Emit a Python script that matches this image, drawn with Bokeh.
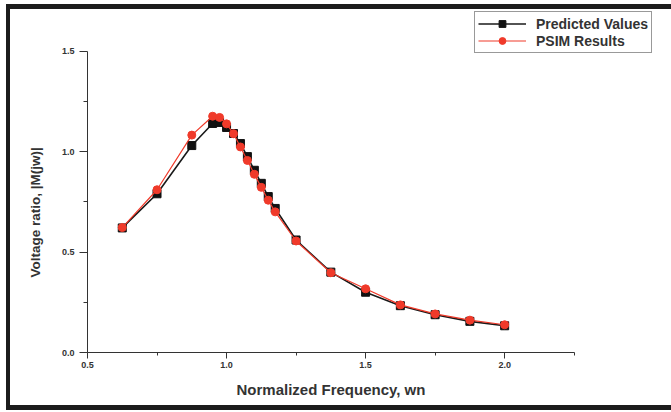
from bokeh.plotting import figure
from bokeh.models import (Range1d, Legend, LegendItem, ColumnDataSource,
                          FixedTicker, NumeralTickFormatter, Title)
from bokeh.embed import file_html
from bokeh.resources import INLINE

# Normalized frequency values
freq = [0.625, 0.75, 0.875, 0.95, 0.975, 1.0, 1.025, 1.05, 1.075, 1.1, 1.125,
        1.15, 1.175, 1.25, 1.375, 1.5, 1.625, 1.75, 1.875, 2.0]
# Predicted values (black squares)
predicted = [0.62, 0.79, 1.03, 1.14, 1.145, 1.12, 1.09, 1.04, 0.975, 0.907, 0.842,
             0.776, 0.717, 0.56, 0.40, 0.30, 0.233, 0.188, 0.155, 0.133]
# PSIM results (red circles)
psim = [0.622, 0.81, 1.082, 1.176, 1.17, 1.138, 1.089, 1.023, 0.956, 0.887, 0.822,
        0.758, 0.70, 0.555, 0.397, 0.317, 0.237, 0.192, 0.161, 0.138]

x_ticks = [0.5, 1.0, 1.5, 2.0]
x_minor = [0.75, 1.25, 1.75, 2.25]
y_ticks = [0.0, 0.5, 1.0, 1.5]
y_minor = [0.25, 0.75, 1.25]
x_title = "Normalized Frequency, wn"
y_title = "Voltage ratio, |M(jw)|"

FONT = "Liberation Sans"
TXT = "#333333"

p = figure(width=671, height=412, output_backend="svg", toolbar_location=None,
           x_range=Range1d(0.5, 2.6), y_range=Range1d(0, 1.752),
           min_border_left=87, min_border_right=0, min_border_top=0,
           min_border_bottom=60)
p.outline_line_color = None
p.xgrid.visible = False
p.ygrid.visible = False
p.background_fill_alpha = 0
p.border_fill_alpha = 0

# page frame drawn as the host element's background
band = "linear-gradient(#1c1c1c,#1c1c1c)"
p.styles = {
    "background": (f"{band} 6px 4px / 4px 406px no-repeat, "
                   f"{band} 6px 4px / 665px 5px no-repeat, "
                   f"{band} 6px 405px / 665px 5px no-repeat, white"),
}

src_p = ColumnDataSource(dict(x=freq, y=predicted))
src_s = ColumnDataSource(dict(x=freq, y=psim))

l1 = p.line("x", "y", source=src_p, line_color="#1a1a1a", line_width=1.6)
m1 = p.scatter("x", "y", source=src_p, marker="square", size=8,
               fill_color="#111111", line_color="#111111")
l2 = p.line("x", "y", source=src_s, line_color="#f03a2a", line_width=1.2)
m2 = p.scatter("x", "y", source=src_s, marker="circle", size=8,
               fill_color="#f03a2a", line_color="#f03a2a")

p.xaxis[0].ticker = FixedTicker(ticks=x_ticks, minor_ticks=x_minor)
p.yaxis[0].ticker = FixedTicker(ticks=y_ticks, minor_ticks=y_minor)
p.xaxis[0].bounds = (0.5, 2.25)
p.yaxis[0].bounds = (0.0, 1.5)

for ax in (p.xaxis[0], p.yaxis[0]):
    ax.formatter = NumeralTickFormatter(format="0.0")
    ax.axis_line_color = TXT
    ax.axis_line_width = 1
    ax.major_tick_line_color = TXT
    ax.minor_tick_line_color = TXT
    ax.major_tick_in = 0
    ax.minor_tick_in = 0
    ax.major_label_text_font = FONT
    ax.major_label_text_font_style = "bold"
    ax.major_label_text_font_size = "9px"
    ax.major_label_text_color = TXT

p.xaxis.major_tick_out = 6
p.xaxis.minor_tick_out = 3
p.yaxis.major_tick_out = 8
p.yaxis.minor_tick_out = 4
p.xaxis.major_label_standoff = 3
p.yaxis.major_label_standoff = 5

# axis titles, positioned along the axis extent (0.5..2.25 and 0..1.5)
xt = Title(text=x_title, align="left", offset=149, vertical_align="top",
           standoff=20, text_font=FONT, text_font_style="bold",
           text_font_size="15px", text_color=TXT)
p.add_layout(xt, "below")
yt = Title(text=y_title, align="left", offset=75, vertical_align="bottom",
           standoff=32, text_font=FONT, text_font_style="bold",
           text_font_size="13.5px", text_color=TXT)
p.add_layout(yt, "left")

legend = Legend(items=[LegendItem(label="Predicted Values", renderers=[l1, m1]),
                       LegendItem(label="PSIM Results", renderers=[l2, m2])],
                location=(387, 299))
legend.label_text_font = FONT
legend.label_text_font_style = "bold"
legend.label_text_font_size = "14px"
legend.label_text_color = TXT
legend.glyph_width = 48
legend.glyph_height = 17
legend.label_height = 17
legend.spacing = 0
legend.padding = 3
legend.margin = 0
legend.label_standoff = 10
legend.border_line_color = "#333333"
legend.border_line_width = 1
legend.background_fill_color = "white"
legend.background_fill_alpha = 1
p.add_layout(legend, "center")

open("out.html", "w").write(file_html(p, INLINE))
